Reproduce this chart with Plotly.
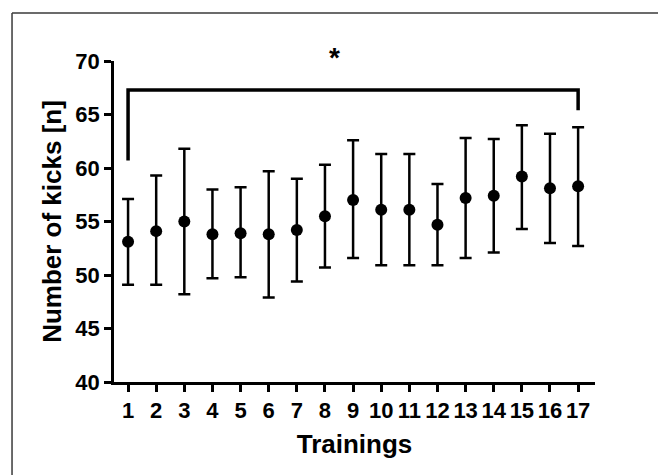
import plotly.graph_objects as go

trainings = list(range(1, 18))
tick_labels = [str(t) for t in trainings]
means = [53.1, 54.1, 55.0, 53.8, 53.9, 53.8, 54.2, 55.5, 57.0, 56.1, 56.1, 54.7, 57.2, 57.4, 59.2, 58.1, 58.3]
upper = [57.1, 59.3, 61.8, 58.0, 58.2, 59.7, 59.0, 60.3, 62.6, 61.3, 61.3, 58.5, 62.8, 62.7, 64.0, 63.2, 63.8]
lower = [49.1, 49.1, 48.2, 49.7, 49.8, 47.9, 49.4, 50.7, 51.6, 50.9, 50.9, 50.9, 51.6, 52.1, 54.3, 53.0, 52.7]

bracket_x = [1, 1, 17, 17]
bracket_y = [60.7, 67.3, 67.3, 65.4]
y_ticks = [40, 45, 50, 55, 60, 65, 70]

err_plus = [u - m for u, m in zip(upper, means)]
err_minus = [m - l for m, l in zip(means, lower)]

FONT = "Liberation Sans, Arial, sans-serif"

fig = go.Figure()
fig.add_trace(go.Scatter(
    x=bracket_x, y=bracket_y, mode="lines",
    line=dict(color="black", width=3.5), hoverinfo="skip", showlegend=False,
))
fig.add_trace(go.Scatter(
    x=trainings, y=means, mode="markers",
    marker=dict(color="black", size=12),
    error_y=dict(type="data", symmetric=False, array=err_plus, arrayminus=err_minus,
                 color="black", thickness=2.5, width=6),
    showlegend=False,
))

fig.add_annotation(x=8.35, y=1.011, xref="x", yref="paper", text="<b>*</b>",
                   showarrow=False, font=dict(family=FONT, size=28, color="black"),
                   xanchor="center", yanchor="middle")

# outer frame (top and left edges only; the frame continues past the window)
fig.add_shape(type="line", xref="paper", yref="paper", x0=-0.212, x1=1.25, y0=1.1495, y1=1.1495,
              line=dict(color="#3a3a3a", width=1.5))
fig.add_shape(type="line", xref="paper", yref="paper", x0=-0.212, x1=-0.212, y0=1.1495, y1=-0.4,
              line=dict(color="#3a3a3a", width=1.5))

fig.update_layout(
    width=658, height=475,
    margin=dict(l=114, r=63, t=61, b=93),
    paper_bgcolor="white", plot_bgcolor="white",
    showlegend=False,
)
fig.update_xaxes(
    range=[0.5, 17.6], tickmode="array", tickvals=trainings, ticktext=tick_labels,
    showgrid=False, zeroline=False, showline=True, linecolor="black", linewidth=2.5,
    ticks="outside", ticklen=7, tickwidth=2.5, tickcolor="black", tickangle=0,
    tickfont=dict(family=FONT, size=22, color="black", weight="bold"),
    title=dict(text="Trainings", font=dict(family=FONT, size=26, color="black", weight="bold"), standoff=13),
)
fig.update_yaxes(
    range=[40, 70], tickmode="array", tickvals=y_ticks,
    showgrid=False, zeroline=False, showline=True, linecolor="black", linewidth=2.5,
    ticks="outside", ticklen=7, tickwidth=2.5, tickcolor="black",
    tickfont=dict(family=FONT, size=22, color="black", weight="bold"),
    title=dict(text="Number of kicks [n]", font=dict(family=FONT, size=26, color="black", weight="bold"), standoff=7),
)

fig.write_html("out.html", config={"displayModeBar": False},
               post_script="document.documentElement.style.overflow='hidden';document.body.style.margin='0';document.body.style.overflow='hidden';")
